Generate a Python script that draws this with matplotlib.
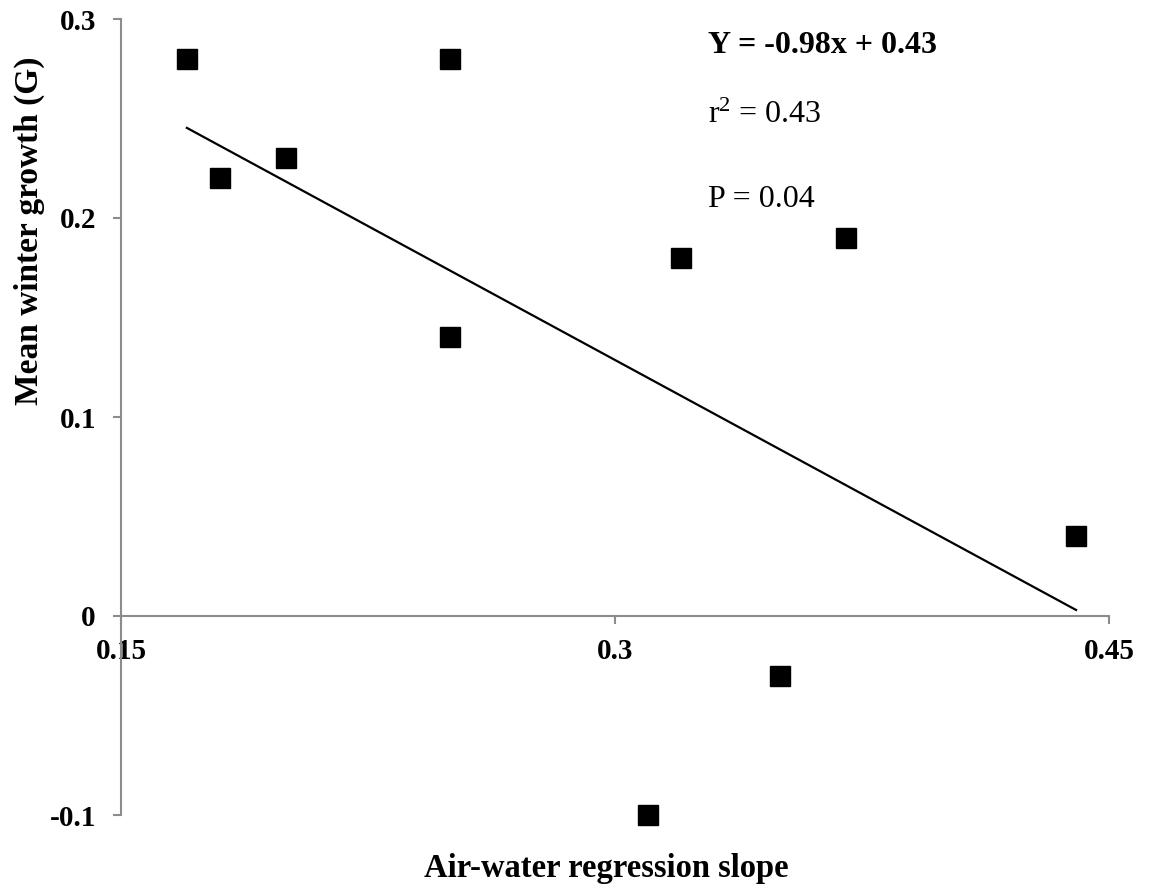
import numpy as np
import matplotlib
matplotlib.use("Agg")
import matplotlib.pyplot as plt

plt.rcParams['font.family'] = ['Liberation Serif', 'DejaVu Serif']
plt.rcParams['mathtext.fontset'] = 'custom'
plt.rcParams['mathtext.rm'] = 'Liberation Serif'
plt.rcParams['mathtext.it'] = 'Liberation Serif:italic'
plt.rcParams['mathtext.bf'] = 'Liberation Serif:bold'
plt.rcParams['mathtext.default'] = 'regular'

# Data
slope_x = [0.17, 0.18, 0.20, 0.25, 0.25, 0.32, 0.37, 0.44, 0.35, 0.31]
growth_y = [0.28, 0.22, 0.23, 0.28, 0.14, 0.18, 0.19, 0.04, -0.03, -0.10]
x_ticks = [0.15, 0.3, 0.45]
x_tick_labels = ["0.15", "0.3", "0.45"]
y_ticks = [-0.1, 0.0, 0.1, 0.2, 0.3]
y_tick_labels = ["-0.1", "0", "0.1", "0.2", "0.3"]

W, H = 1150, 890
fig = plt.figure(figsize=(W / 100, H / 100), dpi=100)
ax = fig.add_axes([121 / W, 1 - 815 / H, (1109 - 121) / W, (815 - 19) / H])

xs = np.array(slope_x)
ys = np.array(growth_y)
m, b = np.polyfit(xs, ys, 1)
xl = np.array([xs.min(), xs.max()])
ax.plot(xl, m * xl + b, color='black', lw=1.6, zorder=2)
ax.plot(xs, ys, 's', color='black', markersize=14.5, zorder=3, clip_on=False)

ax.set_xlim(0.15, 0.45)
ax.set_ylim(-0.1, 0.3)
ax.spines['top'].set_visible(False)
ax.spines['right'].set_visible(False)
ax.spines['bottom'].set_position(('data', 0))
for s in ('left', 'bottom'):
    ax.spines[s].set_color('#8c8c8c')
    ax.spines[s].set_linewidth(1.5)

ax.tick_params(axis='both', direction='out', length=6, width=1.5, color='#8c8c8c',
               labelsize=21)
ax.tick_params(axis='y', pad=12)
ax.tick_params(axis='x', pad=10)
ax.set_xticks(x_ticks)
ax.set_xticklabels(x_tick_labels)
ax.set_yticks(y_ticks)
ax.set_yticklabels(y_tick_labels)
for lab in ax.get_xticklabels() + ax.get_yticklabels():
    lab.set_fontweight('bold')
    lab.set_fontsize(21)

fig.text(708 / W, 1 - 53 / H, "Y = -0.98x + 0.43", fontsize=23, fontweight='bold', va='baseline', ha='left')
fig.text(708 / W, 1 - 123 / H, r"r$^{2}$ = 0.43", fontsize=23, va='baseline', ha='left')
fig.text(708 / W, 1 - 207 / H, "P = 0.04", fontsize=23, va='baseline', ha='left')

fig.text(606 / W, 1 - 877 / H, "Air-water regression slope", fontsize=23.5, fontweight='bold',
         va='baseline', ha='center')
fig.text(29 / W, 1 - 231 / H, "Mean winter growth (G)", fontsize=24, fontweight='bold',
         va='center', ha='center', rotation=90)

fig.savefig("out.png", dpi=100)
